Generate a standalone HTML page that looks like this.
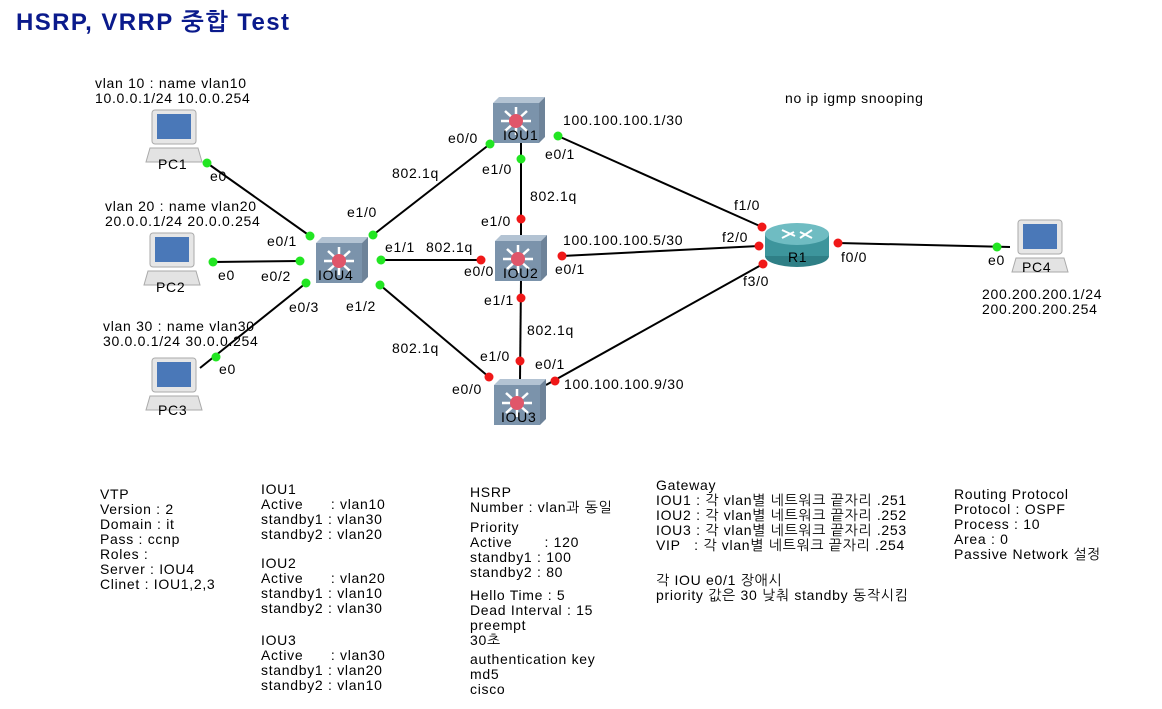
<!DOCTYPE html>
<html><head><meta charset="utf-8"><style>
body{margin:0;background:#fff;width:1162px;height:709px;overflow:hidden}
svg{display:block}
text{font-family:"Liberation Sans","NanumGothic","Noto Sans CJK KR",sans-serif;font-size:14px;letter-spacing:0.7px;fill:#000;white-space:pre}
</style></head><body>
<svg width="1162" height="709" viewBox="0 0 1162 709">
<defs>
<g id="sw">
<polygon points="0,6 6,0 52,0 46,6" fill="#b3c3d3"/>
<polygon points="46,6 52,0 52,40 46,46" fill="#6e8399"/>
<rect x="0" y="6" width="46" height="40" fill="#7b93ab"/>
<g stroke="#fff" stroke-width="2.5">
<line x1="23" y1="24" x2="23" y2="10"/><line x1="23" y1="24" x2="23" y2="38"/>
<line x1="23" y1="24" x2="8" y2="24"/><line x1="23" y1="24" x2="38" y2="24"/>
<line x1="23" y1="24" x2="12" y2="14"/><line x1="23" y1="24" x2="34" y2="14"/>
<line x1="23" y1="24" x2="12" y2="34"/><line x1="23" y1="24" x2="34" y2="34"/>
</g>
<circle cx="23" cy="24" r="7" fill="#e0566a"/>
</g>
<g id="pc">
<rect x="4" y="0" width="44" height="34" rx="3" fill="#e6e6e6" stroke="#aaa"/>
<rect x="9" y="4" width="34" height="25" fill="#4a78b8"/>
<polygon points="2,38 50,38 54,52 -2,52" fill="#e3e3e3" stroke="#aaa"/>
</g>
</defs>
<text x="16" y="30" style="font-size:24px;letter-spacing:1.4px;font-weight:bold;fill:#0a1a8c">HSRP, VRRP 중합 Test</text>

<g stroke="#000" stroke-width="2">
<line x1="207" y1="163" x2="310" y2="236"/>
<line x1="213" y1="262" x2="300" y2="261"/>
<line x1="200" y1="368" x2="306" y2="283"/>
<line x1="373" y1="235" x2="490" y2="144"/>
<line x1="381" y1="260" x2="481" y2="260"/>
<line x1="380" y1="285" x2="489" y2="377"/>
<line x1="521" y1="142" x2="521" y2="236"/>
<line x1="521" y1="280" x2="520" y2="380"/>
<line x1="558" y1="136" x2="762" y2="227"/>
<line x1="562" y1="256" x2="759" y2="246"/>
<line x1="546" y1="385" x2="763" y2="264"/>
<line x1="838" y1="243" x2="1010" y2="247"/>
</g>

<use href="#sw" x="493" y="97"/>
<use href="#sw" x="495" y="235"/>
<use href="#sw" x="316" y="237"/>
<use href="#sw" x="494" y="379"/>
<text x="503" y="140">IOU1</text>
<text x="503" y="278">IOU2</text>
<text x="318" y="280">IOU4</text>
<text x="501" y="422">IOU3</text>

<g>
<ellipse cx="797" cy="256" rx="32" ry="11" fill="#2f7f86"/>
<rect x="765" y="234" width="64" height="22" fill="#3d959c"/>
<ellipse cx="797" cy="234" rx="32" ry="11" fill="#6fbcc2"/>
<g stroke="#fff" stroke-width="2"><line x1="782" y1="230" x2="795" y2="236"/><line x1="800" y1="232" x2="812" y2="238"/><line x1="782" y1="238" x2="794" y2="232"/><line x1="800" y1="238" x2="812" y2="230"/></g>
<text x="788" y="262">R1</text>
</g>

<use href="#pc" x="148" y="110"/><text x="158" y="169">PC1</text>
<use href="#pc" x="146" y="233"/><text x="156" y="292">PC2</text>
<use href="#pc" x="148" y="358"/><text x="158" y="415">PC3</text>
<use href="#pc" x="1014" y="220"/><text x="1022" y="272">PC4</text>

<g fill="#22e622">
<circle cx="207" cy="163" r="4.5"/><circle cx="213" cy="262" r="4.5"/><circle cx="216" cy="357" r="4.5"/>
<circle cx="310" cy="236" r="4.5"/><circle cx="300" cy="261" r="4.5"/><circle cx="306" cy="283" r="4.5"/>
<circle cx="373" cy="235" r="4.5"/><circle cx="381" cy="260" r="4.5"/><circle cx="380" cy="285" r="4.5"/>
<circle cx="490" cy="144" r="4.5"/><circle cx="558" cy="136" r="4.5"/><circle cx="521" cy="159" r="4.5"/>
<circle cx="997" cy="247" r="4.5"/>
</g>
<g fill="#f01818">
<circle cx="521" cy="219" r="4.5"/><circle cx="481" cy="260" r="4.5"/><circle cx="562" cy="256" r="4.5"/><circle cx="521" cy="298" r="4.5"/>
<circle cx="520" cy="361" r="4.5"/><circle cx="489" cy="377" r="4.5"/><circle cx="555" cy="381" r="4.5"/>
<circle cx="762" cy="227" r="4.5"/><circle cx="759" cy="246" r="4.5"/><circle cx="763" cy="264" r="4.5"/><circle cx="838" cy="243" r="4.5"/>
</g>

<text x="95" y="88">vlan 10 : name vlan10</text><text x="95" y="103">10.0.0.1/24 10.0.0.254</text>
<text x="105" y="211">vlan 20 : name vlan20</text><text x="105" y="226">20.0.0.1/24 20.0.0.254</text>
<text x="103" y="331">vlan 30 : name vlan30</text><text x="103" y="346">30.0.0.1/24 30.0.0.254</text>
<text x="210" y="181">e0</text><text x="218" y="280">e0</text><text x="219" y="374">e0</text>
<text x="267" y="246">e0/1</text><text x="261" y="281">e0/2</text><text x="289" y="312">e0/3</text>
<text x="347" y="217">e1/0</text><text x="385" y="252">e1/1</text><text x="346" y="311">e1/2</text>
<text x="392" y="178">802.1q</text><text x="426" y="252">802.1q</text><text x="392" y="353">802.1q</text>
<text x="448" y="143">e0/0</text><text x="545" y="159">e0/1</text><text x="482" y="174">e1/0</text>
<text x="530" y="201">802.1q</text><text x="481" y="226">e1/0</text>
<text x="563" y="125">100.100.100.1/30</text>
<text x="563" y="245">100.100.100.5/30</text>
<text x="464" y="276">e0/0</text><text x="555" y="274">e0/1</text>
<text x="484" y="305">e1/1</text><text x="527" y="335">802.1q</text>
<text x="480" y="361">e1/0</text><text x="535" y="369">e0/1</text><text x="452" y="394">e0/0</text>
<text x="564" y="389">100.100.100.9/30</text>
<text x="734" y="210">f1/0</text><text x="722" y="242">f2/0</text><text x="743" y="286">f3/0</text>
<text x="841" y="262">f0/0</text><text x="988" y="265">e0</text>
<text x="785" y="103">no ip igmp snooping</text>
<text x="982" y="299">200.200.200.1/24</text><text x="982" y="314">200.200.200.254</text>

<g>
<text x="100" y="499">VTP</text><text x="100" y="514">Version : 2</text><text x="100" y="529">Domain : it</text><text x="100" y="544">Pass : ccnp</text><text x="100" y="559">Roles :</text><text x="100" y="574">Server : IOU4</text><text x="100" y="589">Clinet : IOU1,2,3</text>
<text x="261" y="494">IOU1</text><text x="261" y="509">Active      : vlan10</text><text x="261" y="524">standby1 : vlan30</text><text x="261" y="539">standby2 : vlan20</text>
<text x="261" y="568">IOU2</text><text x="261" y="583">Active      : vlan20</text><text x="261" y="598">standby1 : vlan10</text><text x="261" y="613">standby2 : vlan30</text>
<text x="261" y="645">IOU3</text><text x="261" y="660">Active      : vlan30</text><text x="261" y="675">standby1 : vlan20</text><text x="261" y="690">standby2 : vlan10</text>
<text x="470" y="497">HSRP</text><text x="470" y="512">Number : vlan과 동일</text>
<text x="470" y="532">Priority</text><text x="470" y="547">Active       : 120</text><text x="470" y="562">standby1 : 100</text><text x="470" y="577">standby2 : 80</text>
<text x="470" y="600">Hello Time : 5</text><text x="470" y="615">Dead Interval : 15</text><text x="470" y="630">preempt</text><text x="470" y="645">30초</text>
<text x="470" y="664">authentication key</text><text x="470" y="679">md5</text><text x="470" y="694">cisco</text>
<text x="656" y="490">Gateway</text><text x="656" y="505">IOU1 : 각 vlan별 네트워크 끝자리 .251</text><text x="656" y="520">IOU2 : 각 vlan별 네트워크 끝자리 .252</text><text x="656" y="535">IOU3 : 각 vlan별 네트워크 끝자리 .253</text><text x="656" y="550">VIP   : 각 vlan별 네트워크 끝자리 .254</text>
<text x="656" y="585">각 IOU e0/1 장애시</text><text x="656" y="600">priority 값은 30 낮춰 standby 동작시킴</text>
<text x="954" y="499">Routing Protocol</text><text x="954" y="514">Protocol : OSPF</text><text x="954" y="529">Process : 10</text><text x="954" y="544">Area : 0</text><text x="954" y="559">Passive Network 설정</text>
</g>
</svg>
</body></html>
